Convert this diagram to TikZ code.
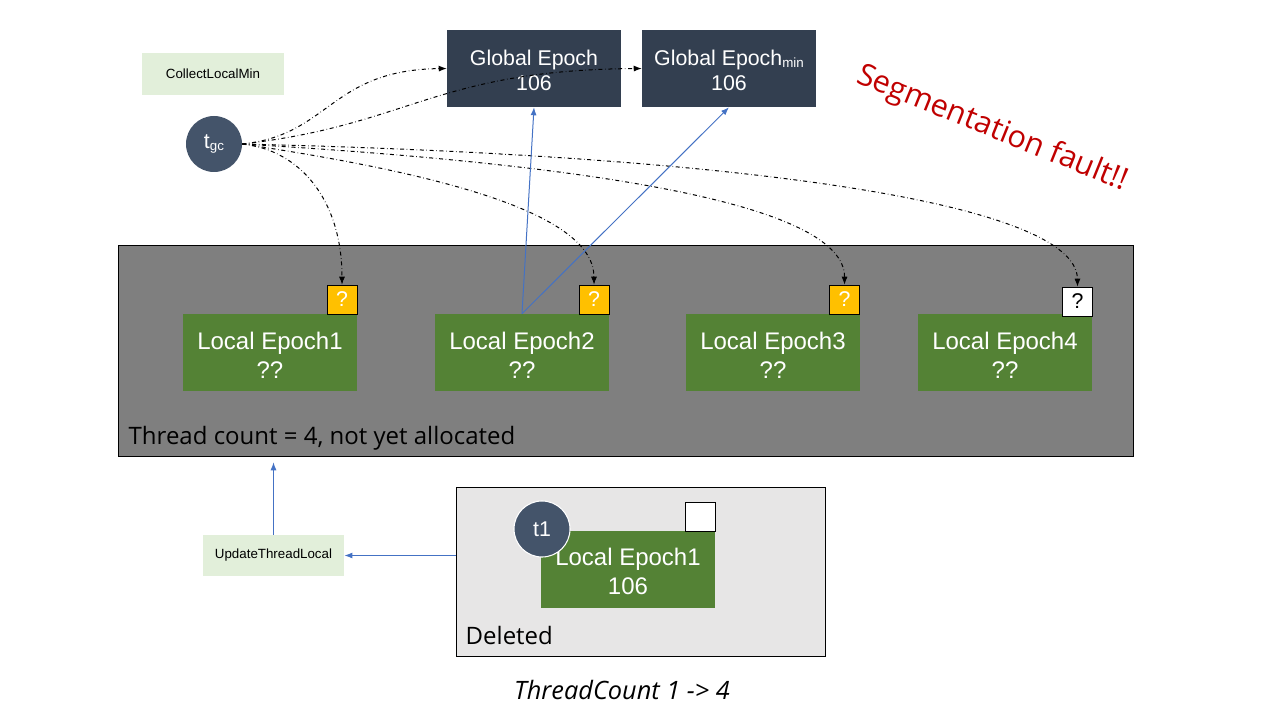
\documentclass[tikz,border=0pt]{standalone}
\usepackage{fontspec}
\setmainfont{Liberation Sans}
\newfontfamily\malgun{Open Sans}
\usetikzlibrary{arrows.meta}
\definecolor{navy}{RGB}{51,63,80}
\definecolor{ardoise}{RGB}{68,84,106}
\definecolor{vert}{RGB}{84,130,53}
\definecolor{vertclair}{RGB}{226,239,218}
\definecolor{or}{RGB}{255,192,0}
\definecolor{grisfonce}{RGB}{127,127,127}
\definecolor{grisclair}{RGB}{231,230,230}
\definecolor{rouge}{RGB}{192,0,0}
\definecolor{bleu}{RGB}{68,114,196}
\newcommand{\indice}[1]{\raisebox{-1.5pt}{\fontsize{10}{10}\selectfont #1}}

\begin{document}
\begin{tikzpicture}[x=0.75pt,y=-0.75pt,
	epoque/.style={fill=vert,text=white,minimum width=130.5pt,minimum height=57.75pt,inner sep=0pt,align=center,font=\fontsize{18}{21.6}\selectfont,text height=39pt,text depth=0.5pt},
	globale/.style={fill=navy,text=white,minimum width=130.5pt,minimum height=57.75pt,inner sep=0pt,align=center,font=\fontsize{16}{19.2}\selectfont,text height=33.7pt,text depth=0.3pt},
	drapeau/.style={draw=black,fill=or,text=white,minimum width=22.5pt,minimum height=21.75pt,inner sep=0pt,font=\fontsize{16}{16}\selectfont},
	fonction/.style={fill=vertclair,minimum width=106pt,minimum height=31pt,inner sep=0pt,font=\fontsize{10}{12}\selectfont},
	fil/.style={circle,fill=ardoise,text=white,minimum size=42pt,inner sep=0pt,font=\fontsize{16}{16}\selectfont},
	lecture/.style={-{Latex[length=6pt,width=4.5pt]},dash dot,line width=0.75pt},
	ecriture/.style={-{Latex[length=6pt,width=4.5pt]},draw=bleu,line width=0.75pt}]
			          \useasboundingbox (0,0) rectangle (1280,720);
			          %zones des threads
			          \node[draw=black,fill=grisfonce,minimum width=761.25pt,minimum height=158.25pt] (threads) at (625.5,350.5) {};
			          \node[draw=black,fill=grisclair,minimum width=276.75pt,minimum height=126.75pt] (deleted) at (640.5,571.5) {};
			          \node[anchor=west,font=\malgun\fontsize{18}{18}\selectfont] (nbthreads) at (124,438) {Thread count = 4, not yet allocated};
			          \node[anchor=west,font=\malgun\fontsize{18}{18}\selectfont] (lbldeleted) at (461,635) {Deleted};
			          %epoques globales
			          \node[globale] (ge) at (534,68.5) {Global Epoch\\106};
			          \node[globale] (gemin) at (729,68.5) {Global Epoch\indice{min}\\106};
			          \node[fonction] (collect) at (213,74) {CollectLocalMin};
			          \node[fonction] (update) at (273.5,555.5) {UpdateThreadLocal};
			          \node[fil] (tgc) at (214,144) {t\indice{gc}};
			          %epoques locales
			          \node[epoque] (le1) at (270,352.5) {Local Epoch1\\??};
			          \node[epoque] (le2) at (522,352.5) {Local Epoch2\\??};
			          \node[epoque] (le3) at (773,352.5) {Local Epoch3\\??};
			          \node[epoque] (le4) at (1005,352.5) {Local Epoch4\\??};
			          \node[drapeau] (q1) at (342,299.5) {?};
			          \node[drapeau] (q2) at (594,299.5) {?};
			          \node[drapeau] (q3) at (844.5,299.5) {?};
			          \node[drapeau,fill=white,text=black] (q4) at (1077.5,301.5) {?};
			          \node[epoque] (le1old) at (628,569) {Local Epoch1\\106};
			          \node[drapeau,fill=white] (qold) at (700,516.5) {};
			          \node[fil,draw=white,line width=0.8pt] (t1) at (542,529) {t1};
			          \node[rotate=-22,text=rouge,font=\malgun\fontsize{23}{23}\selectfont] (segfault) at (992,129) {Segmentation fault!!};
			          \node[font=\malgun\itshape\fontsize{19}{19}\selectfont] (titre) at (622,690) {ThreadCount 1 -> 4};
			          %lectures de tgc
			          \draw[lecture] (tgc.east) .. controls (330,135) and (330,70) .. (ge.west);
			          \draw[lecture] (tgc.east) .. controls (410,125) and (435,70) .. (gemin.west);
			          \draw[lecture] (tgc.east) .. controls (300,150) and (342,200) .. (q1.north);
			          \draw[lecture] (tgc.east) .. controls (450,175) and (594,215) .. (q2.north);
			          \draw[lecture] (tgc.east) .. controls (600,165) and (845,205) .. (q3.north);
			          \draw[lecture] (tgc.east) .. controls (720,155) and (1077,200) .. (q4.north);
			          %mises a jour
			          \draw[ecriture] (le2.north) -- (ge.south);
			          \draw[ecriture] (le2.north) -- (gemin.south);
			          \draw[ecriture] (deleted.west |- update.east) -- (update.east);
			          \draw[ecriture,shorten >=4.5pt] (update.north) -- (update.north |- threads.south);
				  \end{tikzpicture}
\end{document}
